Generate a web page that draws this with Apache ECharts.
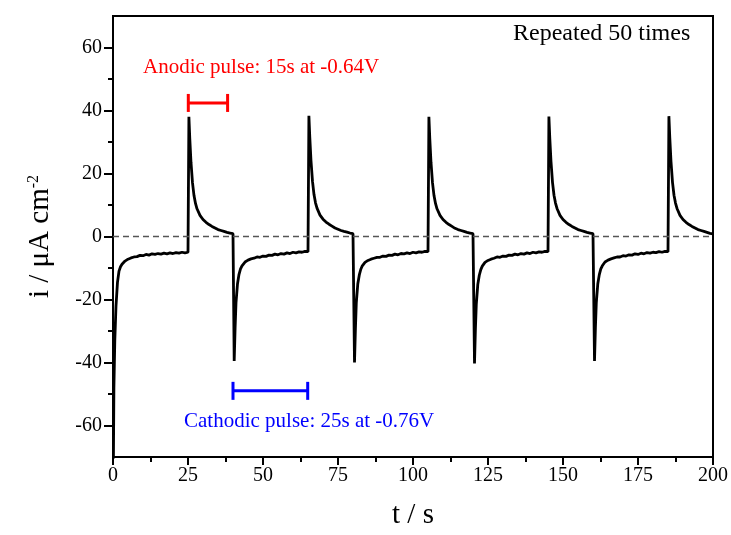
<!DOCTYPE html>
<html>
<head>
<meta charset="utf-8">
<script src="https://cdn.jsdelivr.net/npm/echarts@6/dist/echarts.min.js"></script>
<style>
  html, body { margin: 0; padding: 0; background: #fff; }
  #chart { width: 731px; height: 535px; }
</style>
</head>
<body>
<div id="chart"></div>
<script>
// pulse current transient: [t (s), i (uA cm^-2)]
var startup = [[0,-90],[0.3,-48],[0.6,-33],[1,-22],[1.5,-14.5],[2,-11],[2.5,-9.6],[3,-8.8],[4,-7.8],[5,-7.2],[6,-6.8],[7,-6.5],[8,-6.4],[9,-6.0],[10,-6.1],[11,-5.7],[12,-5.9],[13,-5.5],[14,-5.7],[15,-5.4],[16,-5.6],[17,-5.3],[18,-5.5],[19,-5.2],[20,-5.4],[21,-5.1],[22,-5.3],[23,-5.0],[24,-5.2],[25,-5.0]];
var anodic1 = [[25.3,38],[25.6,31],[26,23.5],[26.5,17],[27,13],[27.5,10.5],[28,8.8],[29,6.7],[30,5.4],[31,4.5],[32,3.8],[33,3.2],[34,2.7],[35,2.2],[36,1.9],[37,1.6],[38,1.3],[39,1.1],[40,0.9]];
var cathodic1 = [[40.4,-39.5],[40.7,-29],[41,-21],[41.5,-15],[42,-12],[42.5,-10.3],[43,-9.3],[44,-8.1],[45,-7.5],[46,-7.1],[47,-6.9],[48,-6.5],[49,-6.6],[50,-6.2],[51,-6.3],[52,-5.9],[53,-6.0],[54,-5.6],[55,-5.8],[56,-5.4],[57,-5.6],[58,-5.2],[59,-5.4],[60,-5.0],[61,-5.2],[62,-4.9],[63,-5.0],[64,-4.7],[65,-4.8]];
var anodic2 = [[65.3,38.3],[65.6,31.5],[66,24],[66.5,17.5],[67,13.3],[67.5,10.7],[68,9.0],[69,6.8],[70,5.5],[71,4.6],[72,3.9],[73,3.3],[74,2.7],[75,2.3],[76,1.9],[77,1.6],[78,1.4],[79,1.1],[80,0.9]];
var cathodic2 = [[80.5,-40],[80.8,-29.5],[81.1,-21],[81.6,-15],[82.1,-12.2],[82.6,-10.4],[83.1,-9.3],[84,-8.2],[85,-7.6],[86,-7.2],[87,-6.9],[88,-6.6],[89,-6.6],[90,-6.2],[91,-6.3],[92,-5.9],[93,-6.0],[94,-5.6],[95,-5.8],[96,-5.4],[97,-5.5],[98,-5.2],[99,-5.4],[100,-5.0],[101,-5.2],[102,-4.9],[103,-5.0],[104,-4.7],[105,-4.8]];
var anodic3 = [[105.3,38],[105.6,31],[106,23.5],[106.5,17],[107,13],[107.5,10.5],[108,8.8],[109,6.7],[110,5.4],[111,4.5],[112,3.8],[113,3.2],[114,2.6],[115,2.2],[116,1.9],[117,1.6],[118,1.3],[119,1.1],[120,0.9]];
var cathodic3 = [[120.5,-40.3],[120.8,-29.5],[121.1,-21.5],[121.6,-15.2],[122.1,-12.3],[122.6,-10.5],[123.1,-9.4],[124,-8.2],[125,-7.6],[126,-7.2],[127,-6.9],[128,-6.5],[129,-6.6],[130,-6.2],[131,-6.3],[132,-5.9],[133,-6.0],[134,-5.6],[135,-5.8],[136,-5.4],[137,-5.6],[138,-5.2],[139,-5.4],[140,-5.0],[141,-5.2],[142,-4.9],[143,-5.0],[144,-4.7],[145,-4.8]];
var anodic4 = [[145.3,38.1],[145.6,31.2],[146,23.8],[146.5,17.2],[147,13.1],[147.5,10.6],[148,8.9],[149,6.7],[150,5.4],[151,4.5],[152,3.8],[153,3.2],[154,2.7],[155,2.2],[156,1.9],[157,1.6],[158,1.3],[159,1.1],[160,0.9]];
var cathodic4 = [[160.5,-39.5],[160.8,-29],[161.1,-21],[161.6,-15],[162.1,-12.1],[162.6,-10.3],[163.1,-9.3],[164,-8.1],[165,-7.5],[166,-7.1],[167,-6.8],[168,-6.5],[169,-6.5],[170,-6.1],[171,-6.2],[172,-5.8],[173,-5.9],[174,-5.5],[175,-5.7],[176,-5.3],[177,-5.5],[178,-5.1],[179,-5.3],[180,-5.0],[181,-5.1],[182,-4.8],[183,-5.0],[184,-4.7],[185,-4.8]];
var anodic5 = [[185.3,38.2],[185.6,31.3],[186,23.8],[186.5,17.2],[187,13.1],[187.5,10.6],[188,8.9],[189,6.7],[190,5.4],[191,4.5],[192,3.8],[193,3.2],[194,2.7],[195,2.2],[196,1.9],[197,1.6],[198,1.3],[199,1.0],[200,0.8]];

// annotation brackets (pulse widths)
var anodicBracket = [[25.1,42.4],[38.2,42.4]];
var cathodicBracket = [[40,-49],[64.9,-49]];

// ticks
var xTicks = [0,25,50,75,100,125,150,175,200];
var yMajor = [-60,-40,-20,0,20,40,60];
var yMinor = [-50,-30,-10,10,30,50];

var FONT = "'Liberation Serif', 'Times New Roman', serif";

var transient = [].concat(startup, anodic1, cathodic1, anodic2, cathodic2,
    anodic3, cathodic3, anodic4, cathodic4, anodic5);

var chart = echarts.init(document.getElementById('chart'));

var option = {
    animation: false,
    grid: {
        left: 113,
        right: 18,
        top: 16,
        bottom: 78,
        show: true,
        borderColor: '#000',
        borderWidth: 2
    },
    xAxis: {
        type: 'value',
        min: xTicks[0],
        max: xTicks[xTicks.length - 1],
        interval: 25,
        name: 't / s',
        nameLocation: 'middle',
        nameGap: 44,
        nameTextStyle: { fontFamily: FONT, fontSize: 29, color: '#000' },
        axisLine: { onZero: false, lineStyle: { color: '#000', width: 2 } },
        axisTick: { inside: false, length: 8, lineStyle: { color: '#000', width: 2 } },
        minorTick: { show: true, splitNumber: 2, length: 5, lineStyle: { color: '#000', width: 2 } },
        axisLabel: { fontFamily: FONT, fontSize: 20, color: '#000', margin: 9 },
        splitLine: { show: false }
    },
    yAxis: [
        {
            type: 'value',
            min: -70,
            max: 70,
            name: '{a|i / μA cm}{b|-2}',
            nameLocation: 'middle',
            nameGap: 58,
            nameTextStyle: {
                fontFamily: FONT, fontSize: 29, color: '#000',
                rich: {
                    a: { fontFamily: FONT, fontSize: 29, color: '#000' },
                    b: { fontFamily: FONT, fontSize: 16, color: '#000', verticalAlign: 'top' }
                }
            },
            axisLine: { onZero: false, lineStyle: { color: '#000', width: 2 } },
            axisTick: { inside: false, length: 9, customValues: yMajor, lineStyle: { color: '#000', width: 2 } },
            axisLabel: { fontFamily: FONT, fontSize: 20, color: '#000', margin: 11, customValues: yMajor },
            splitLine: { show: false }
        },
        {
            // second left axis only carries the minor ticks
            type: 'value',
            position: 'left',
            min: -70,
            max: 70,
            axisLine: { show: false, onZero: false },
            axisTick: { inside: false, length: 5, customValues: yMinor, lineStyle: { color: '#000', width: 2 } },
            axisLabel: { show: false },
            splitLine: { show: false }
        }
    ],
    series: [
        {
            name: 'current',
            type: 'line',
            data: transient,
            showSymbol: false,
            clip: true,
            lineStyle: { color: '#000', width: 2.8 },
            markLine: {
                silent: true,
                symbol: 'none',
                label: { show: false },
                lineStyle: { color: '#555', type: [6, 4], width: 1.3 },
                data: [{ yAxis: 0 }]
            },
            z: 3
        },
        {
            name: 'anodic pulse',
            type: 'line',
            data: anodicBracket,
            symbol: 'rect',
            symbolSize: [3, 18],
            showSymbol: true,
            itemStyle: { color: '#ff0000' },
            lineStyle: { color: '#ff0000', width: 3 }
        },
        {
            name: 'cathodic pulse',
            type: 'line',
            data: cathodicBracket,
            symbol: 'rect',
            symbolSize: [3, 18],
            showSymbol: true,
            itemStyle: { color: '#0000ff' },
            lineStyle: { color: '#0000ff', width: 3 }
        }
    ],
    graphic: [
        {
            type: 'text', left: 513, top: 22,
            style: { text: 'Repeated 50 times', font: '24px ' + FONT, fill: '#000' }
        },
        {
            type: 'text', left: 143, top: 57,
            style: { text: 'Anodic pulse: 15s at -0.64V', font: '21px ' + FONT, fill: '#ff0000' }
        },
        {
            type: 'text', left: 184, top: 411,
            style: { text: 'Cathodic pulse: 25s at -0.76V', font: '21px ' + FONT, fill: '#0000ff' }
        }
    ]
};

chart.setOption(option);

window.addEventListener('resize', function() {
    chart.resize();
});
</script>
</body>
</html>
